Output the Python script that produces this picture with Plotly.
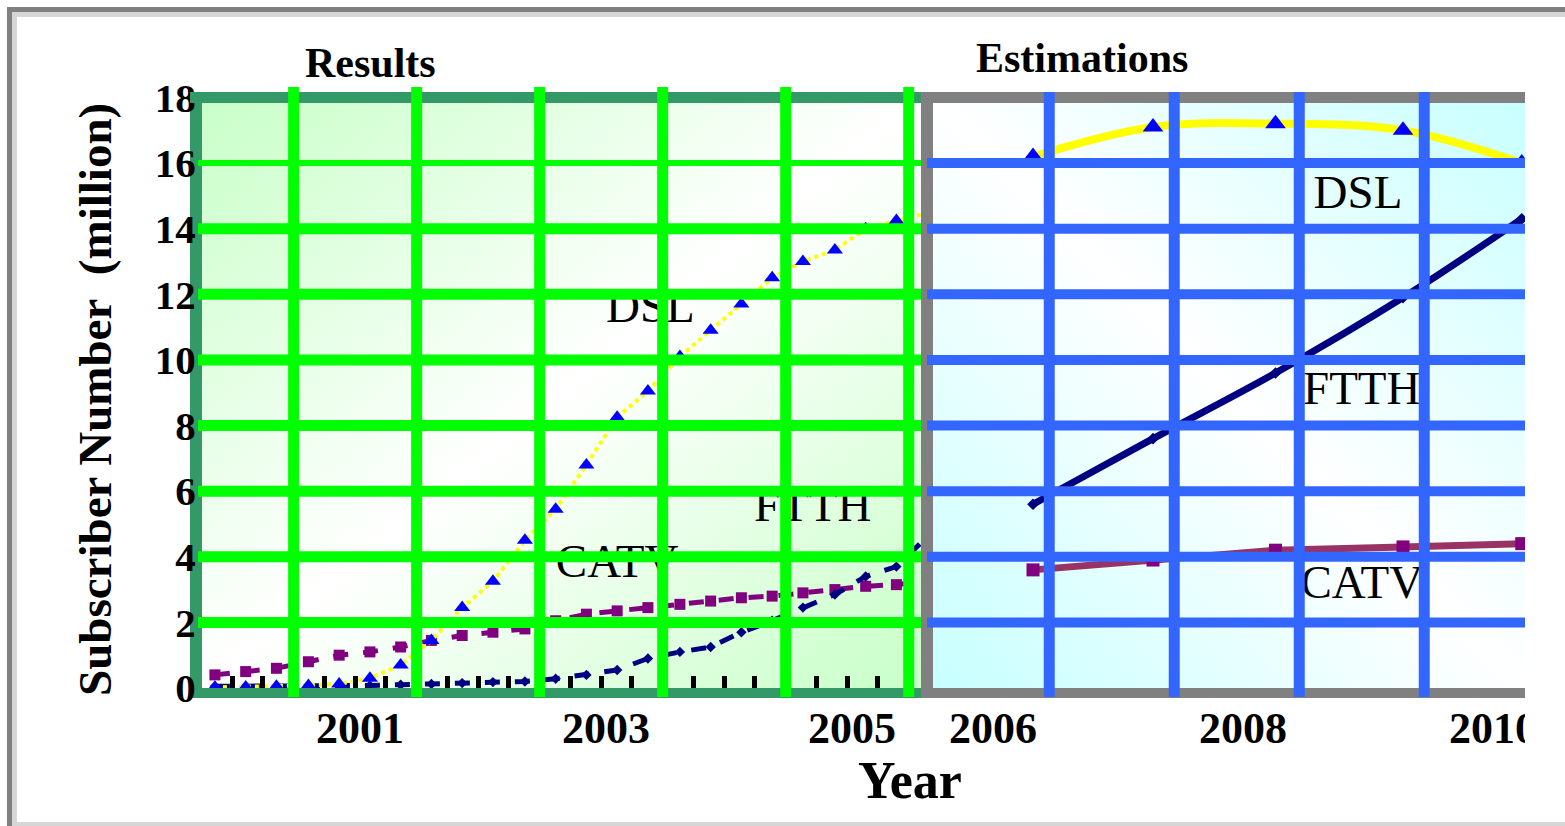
import base64
import plotly.graph_objects as go

# ---------------- data ----------------
quarter_x = [1999.82, 2000.07, 2000.32, 2000.58, 2000.83, 2001.08, 2001.33, 2001.58,
             2001.83, 2002.08, 2002.34, 2002.59, 2002.84, 2003.09, 2003.34, 2003.60,
             2003.85, 2004.10, 2004.35, 2004.60, 2004.86, 2005.11, 2005.36, 2005.58]
dsl_results = [0.02, 0.03, 0.05, 0.08, 0.12, 0.3, 0.7, 1.45, 2.45, 3.25, 4.5, 5.45,
               6.8, 8.25, 9.05, 10.1, 10.9, 11.7, 12.5, 13.0, 13.35, 14.0, 14.25, 14.45]
ftth_results = [0.05, 0.05, 0.05, 0.05, 0.05, 0.08, 0.1, 0.12, 0.15, 0.18, 0.2, 0.28,
                0.4, 0.55, 0.9, 1.1, 1.25, 1.7, 2.05, 2.45, 2.85, 3.4, 3.7, 4.5]
catv_results = [0.4, 0.5, 0.6, 0.8, 1.0, 1.1, 1.25, 1.45, 1.6, 1.7, 1.8, 2.05,
                2.25, 2.35, 2.45, 2.55, 2.65, 2.75, 2.8, 2.9, 3.0, 3.1, 3.15, 3.25]

est_x = [2006.32, 2007.28, 2008.26, 2009.28, 2010.23]
dsl_est = [16.2, 17.1, 17.2, 17.0, 16.0]
ftth_est = [5.6, 7.6, 9.6, 11.9, 14.3]
catv_est = [3.6, 3.9, 4.2, 4.3, 4.4]

left_tick_vals = [2001, 2003, 2005]
right_tick_vals = [2006, 2008, 2010]
y_tick_vals = [0, 2, 4, 6, 8, 10, 12, 14, 16, 18]
left_grid_x = [2000.46, 2001.46, 2002.46, 2003.46, 2004.46, 2005.46]
right_grid_x = [2006.45, 2007.45, 2008.45, 2009.45]
grid_y = [2, 4, 6, 8, 10, 12, 14]
grid_y_top = 16

series_names = ["DSL", "FTTH", "CATV"]
left_label_x = [2003.36, 2004.68, 2003.09]
left_label_y = [11.5, 5.45, 3.75]
right_label_x = [2008.92, 2008.95, 2008.95]
right_label_y = [15.0, 9.0, 3.1]

# ---------------- geometry / styles ----------------
W, H = 1565, 826
def px(xp):
    return xp / W
def py(yp):
    return 1 - yp / H

L_X0, L_X1 = 202, 921
R_X0, R_X1 = 933, 1525
P_TOP, P_BOT = 97.4, 688

SERIF = "Liberation Serif"
LIME = "#00ff00"
BLUE = "#3366ff"
DKGREEN = "#339966"
GRAY = "#808080"


def grad_svg(c_corner, x1, y1, x2, y2):
    svg = ('<svg xmlns="http://www.w3.org/2000/svg" width="100" height="100" '
           'viewBox="0 0 100 100" preserveAspectRatio="none"><defs>'
           f'<linearGradient id="g" x1="{x1}" y1="{y1}" x2="{x2}" y2="{y2}">'
           f'<stop offset="0" stop-color="{c_corner}"/>'
           '<stop offset="0.5" stop-color="#ffffff"/>'
           f'<stop offset="1" stop-color="{c_corner}"/>'
           '</linearGradient></defs>'
           '<rect width="100" height="100" fill="url(#g)"/></svg>')
    return "data:image/svg+xml;base64," + base64.b64encode(svg.encode()).decode()


fig = go.Figure()

# ---- results (left) ----
fig.add_trace(go.Scatter(x=quarter_x, y=catv_results, mode="lines+markers",
                         line=dict(color="#800080", width=5, dash="dash"),
                         marker=dict(symbol="square", size=11, color="#800080"),
                         cliponaxis=False, xaxis="x", yaxis="y", showlegend=False))
fig.add_trace(go.Scatter(x=quarter_x, y=ftth_results, mode="lines+markers",
                         line=dict(color="#000080", width=5, dash="dash"),
                         marker=dict(symbol="diamond", size=8, color="#000080"),
                         cliponaxis=False, xaxis="x", yaxis="y", showlegend=False))
fig.add_trace(go.Scatter(x=quarter_x, y=dsl_results, mode="lines+markers",
                         line=dict(color="#ffff00", width=4, dash="dot"),
                         marker=dict(symbol="triangle-up", size=14, color="#0000ff"),
                         cliponaxis=False, xaxis="x", yaxis="y", showlegend=False))

# ---- estimations (right) ----
fig.add_trace(go.Scatter(x=est_x, y=catv_est, mode="lines+markers",
                         line=dict(color="#993366", width=7),
                         marker=dict(symbol="square", size=13, color="#800080"),
                         xaxis="x2", yaxis="y2", showlegend=False))
fig.add_trace(go.Scatter(x=est_x, y=ftth_est, mode="lines+markers",
                         line=dict(color="#000080", width=7, shape="spline"),
                         marker=dict(symbol="diamond", size=9, color="#000080"),
                         xaxis="x2", yaxis="y2", showlegend=False))
fig.add_trace(go.Scatter(x=est_x, y=dsl_est, mode="lines+markers",
                         line=dict(color="#ffff00", width=8, shape="spline"),
                         marker=dict(symbol="triangle-up", size=18, color="#0000ff"),
                         xaxis="x2", yaxis="y2", showlegend=False))

# ---- series labels ----
fig.add_trace(go.Scatter(x=left_label_x, y=left_label_y, mode="text", text=series_names,
                         textfont=dict(family=SERIF, size=47, color="black"),
                         xaxis="x", yaxis="y", showlegend=False, hoverinfo="skip"))
fig.add_trace(go.Scatter(x=right_label_x, y=right_label_y, mode="text", text=series_names,
                         textfont=dict(family=SERIF, size=47, color="black"),
                         xaxis="x2", yaxis="y2", showlegend=False, hoverinfo="skip"))

# ---- shapes: top borders, then grid lines above traces ----
shapes = []
shapes.append(dict(type="rect", xref="paper", yref="paper", layer="above",
                   x0=px(190), x1=px(L_X1), y0=py(103), y1=py(92),
                   fillcolor=DKGREEN, line=dict(width=0)))
shapes.append(dict(type="rect", xref="paper", yref="paper", layer="above",
                   x0=px(L_X1), x1=px(R_X1), y0=py(103), y1=py(92),
                   fillcolor=GRAY, line=dict(width=0)))
for gy in grid_y:
    shapes.append(dict(type="line", xref="paper", yref="y", layer="above",
                       x0=px(L_X0 - 4), x1=px(L_X1), y0=gy, y1=gy,
                       line=dict(color=LIME, width=11)))
shapes.append(dict(type="line", xref="paper", yref="y", layer="above",
                   x0=px(L_X0 - 4), x1=px(L_X1), y0=grid_y_top, y1=grid_y_top,
                   line=dict(color=LIME, width=6)))
for gx in left_grid_x:
    shapes.append(dict(type="line", xref="x", yref="paper", layer="above",
                       x0=gx, x1=gx, y0=py(697), y1=py(87),
                       line=dict(color=LIME, width=11)))
for gy in grid_y + [grid_y_top]:
    shapes.append(dict(type="line", xref="paper", yref="y2", layer="above",
                       x0=px(927), x1=px(R_X1), y0=gy, y1=gy,
                       line=dict(color=BLUE, width=10)))
for gx in right_grid_x:
    shapes.append(dict(type="line", xref="x2", yref="paper", layer="above",
                       x0=gx, x1=gx, y0=py(697), y1=py(92),
                       line=dict(color=BLUE, width=11)))
# window frame
shapes.append(dict(type="rect", xref="paper", yref="paper", layer="above",
                   x0=px(7), x1=1, y0=py(12), y1=py(7), fillcolor=GRAY, line=dict(width=0)))
shapes.append(dict(type="rect", xref="paper", yref="paper", layer="above",
                   x0=px(7), x1=px(12), y0=0, y1=py(7), fillcolor=GRAY, line=dict(width=0)))
shapes.append(dict(type="rect", xref="paper", yref="paper", layer="above",
                   x0=px(12), x1=1, y0=py(17), y1=py(12), fillcolor="#d6d6d6", line=dict(width=0)))
shapes.append(dict(type="rect", xref="paper", yref="paper", layer="above",
                   x0=px(12), x1=px(17), y0=0, y1=py(12), fillcolor="#d6d6d6", line=dict(width=0)))
shapes.append(dict(type="rect", xref="paper", yref="paper", layer="above",
                   x0=px(12), x1=1, y0=0, y1=py(822), fillcolor="#d6d6d6", line=dict(width=0)))
# the chart is cut at its right edge
shapes.append(dict(type="rect", xref="paper", yref="paper", layer="above",
                   x0=px(R_X1), x1=px(1555), y0=py(770), y1=py(700),
                   fillcolor="white", line=dict(width=0)))

minor_left = [g + k * 0.25 for g in [1999.46] + left_grid_x for k in (1, 2, 3)]

tickfont = dict(family=SERIF, size=44, color="black", weight="bold")

fig.update_layout(
    template="none",
    width=W, height=H, autosize=False,
    margin=dict(l=0, r=0, t=0, b=0, pad=0, autoexpand=False),
    paper_bgcolor="white",
    plot_bgcolor="rgba(0,0,0,0)",
    showlegend=False,
    xaxis=dict(domain=[px(L_X0), px(L_X1)], range=[1999.715, 2005.56], anchor="y",
               automargin=False,
               tickmode="array", tickvals=left_tick_vals,
               ticktext=[str(v) for v in left_tick_vals],
               ticks="", showgrid=False, zeroline=False,
               showline=True, linecolor=DKGREEN, linewidth=10,
               tickfont=tickfont, ticklabelstandoff=-8,
               minor=dict(tickmode="array", tickvals=minor_left, ticks="inside",
                          ticklen=12, tickwidth=5, tickcolor="black", showgrid=False)),
    yaxis=dict(domain=[py(P_BOT), py(P_TOP)], range=[0, 18], anchor="x",
               automargin=False,
               tickmode="array", tickvals=y_tick_vals,
               ticktext=[str(v) for v in y_tick_vals],
               ticks="", showgrid=False, zeroline=False,
               showline=True, linecolor=DKGREEN, linewidth=12,
               tickfont=dict(family=SERIF, size=41, color="black", weight="bold"),
               ticklabelstandoff=-14),
    xaxis2=dict(domain=[px(R_X0), px(R_X1)], range=[2005.52, 2010.256], anchor="y2",
                automargin=False,
                tickmode="array", tickvals=right_tick_vals,
                ticktext=[str(v) for v in right_tick_vals],
                ticks="", showgrid=False, zeroline=False,
                showline=True, linecolor=GRAY, linewidth=10,
                tickfont=tickfont, ticklabelstandoff=-8),
    yaxis2=dict(domain=[py(P_BOT), py(P_TOP)], range=[0, 18], anchor="x2",
                automargin=False,
                showticklabels=False, ticks="", showgrid=False, zeroline=False,
                showline=True, linecolor=GRAY, linewidth=12),
    shapes=shapes,
    images=[
        dict(source=grad_svg("#c8ffc8", 0, 0, 1, 1), xref="paper", yref="paper",
             x=px(L_X0), y=py(P_TOP), sizex=px(L_X1) - px(L_X0), sizey=py(P_TOP) - py(P_BOT),
             xanchor="left", yanchor="top", sizing="stretch", layer="below"),
        dict(source=grad_svg("#c8ffff", 0, 1, 1, 0), xref="paper", yref="paper",
             x=px(R_X0), y=py(P_TOP), sizex=px(R_X1) - px(R_X0), sizey=py(P_TOP) - py(P_BOT),
             xanchor="left", yanchor="top", sizing="stretch", layer="below"),
    ],
    annotations=[
        dict(text="<b>Results</b>", x=px(370), y=py(63), xref="paper", yref="paper",
             xanchor="center", yanchor="middle",
             showarrow=False, font=dict(family=SERIF, size=42, color="black")),
        dict(text="<b>Estimations</b>", x=px(1082), y=py(58), xref="paper", yref="paper",
             xanchor="center", yanchor="middle",
             showarrow=False, font=dict(family=SERIF, size=42, color="black")),
        dict(text="<b>Subscriber Number\u00a0\u00a0(million)</b>", x=px(95), y=py(400),
             xref="paper", yref="paper", textangle=-90, showarrow=False,
             xanchor="center", yanchor="middle",
             font=dict(family=SERIF, size=47, color="black")),
        dict(text="<b>Year</b>", x=px(910), y=py(780), xref="paper", yref="paper",
             xanchor="center", yanchor="middle",
             showarrow=False, font=dict(family=SERIF, size=52, color="black")),
    ],
)

fig.write_html("out.html", config={"displayModeBar": False},
               post_script="document.body.style.margin='0px';")
